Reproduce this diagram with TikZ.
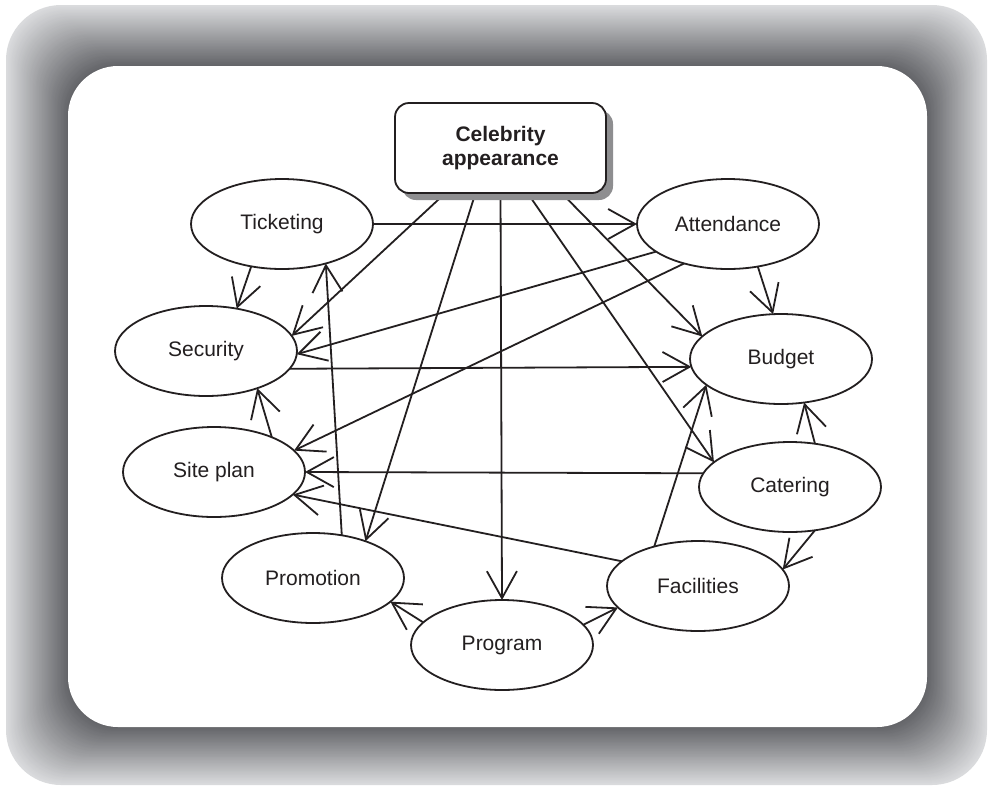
\documentclass[tikz,border=0pt]{standalone}
\usepackage{fontspec}
\setmainfont{Liberation Sans}
\usetikzlibrary{shapes.geometric,arrows.meta,calc,shadows}
\pgfdeclarelayer{frame}
\pgfdeclarelayer{links}
\pgfsetlayers{frame,links,main}

\definecolor{bandlight}{RGB}{218,219,221}
\definecolor{banddark}{RGB}{98,99,103}
\definecolor{shadowgray}{RGB}{142,142,144}
\definecolor{ink}{RGB}{35,31,32}

\begin{document}
\begin{tikzpicture}[x=1pt,y=-1pt,
  ell/.style={ellipse, draw=ink, line width=1.8pt, fill=white,
    minimum width=182pt, minimum height=90pt, inner sep=0pt, outer sep=0pt,
    font=\fontsize{21}{24}\selectfont, text=ink},
  headbox/.style={rectangle, rounded corners=14pt, draw=ink, line width=1.8pt,
    fill=white, minimum width=211pt, minimum height=90pt, inner sep=0pt,
    outer sep=0pt, align=center, text=ink,
    font=\fontsize{21}{24}\selectfont\bfseries,
    drop shadow={shadow xshift=7pt, shadow yshift=-7pt, fill=shadowgray, opacity=1}},
  link/.style={draw=ink, line width=1.8pt,
    -{Straight Barb[length=27pt,width=30pt]}}]

\useasboundingbox (0,0) rectangle (990,788);

% shaded frame around the white panel
\begin{pgfonlayer}{frame}
\foreach \i in {0,...,60}{
  \pgfmathsetmacro\t{\i/60}
  \pgfmathsetmacro\lx{6+62*\t}
  \pgfmathsetmacro\ty{5+61*\t}
  \pgfmathsetmacro\rx{987-60*\t}
  \pgfmathsetmacro\by{785-58*\t}
  \pgfmathsetmacro\rr{55-5*\t}
  \pgfmathtruncatemacro\p{100*\t}
  \fill[banddark!\p!bandlight, rounded corners=\rr pt] (\lx,\ty) rectangle (\rx,\by);
}
\fill[white, rounded corners=50pt] (68,66) rectangle (927,727);
\end{pgfonlayer}

% nodes
\node[headbox] (cel) at (500.5,148) {Celebrity\\appearance};
\node[ell] (tic) at (282,224) {Ticketing};
\node[ell] (att) at (728,224) {Attendance};
\node[ell] (sec) at (206,351) {Security};
\node[ell] (bud) at (781,359) {Budget};
\node[ell] (sit) at (214,472) {Site plan};
\node[ell] (cat) at (790,487) {Catering};
\node[ell] (pro) at (313,578) {Promotion};
\node[ell] (fac) at (698,586) {Facilities};
\node[ell] (prg) at (502,645) {Program};

% connectors
\begin{pgfonlayer}{links}
\draw[link] (tic.east) -- (att.west);
\draw[link] (tic.234) -- (sec.54);
\draw[link] ($(cel.south)+(-55,0)$) -- (sec.10);
\draw[link] ($(cel.south)+(-25,0)$) -- (pro.35);
\draw[link] (cel.south) -- (prg.north);
\draw[link] ($(cel.south)+(27,0)$) -- (cat.162);
\draw[link] ($(cel.south)+(61,0)$) -- (bud.164);
\draw[link] (att.305) -- (bud.100);
\draw[link] (att.201) -- (sec.-2);
\draw[link] (att.222) -- (sit.15);
\draw[link] (sec.-12) -- (bud.185);
\draw[link] (sit.31) -- (sec.-36);
\draw[link] (cat.171) -- (sit.east);
\draw[link] (fac.162) -- (sit.-16);
\draw[link] (pro.56) -- (tic.-42);
\draw[link] (cat.60) -- (bud.-62);
\draw[link] (fac.138) -- (bud.199);
\draw[link] (cat.-60) -- (fac.11);
\draw[link] (prg.164) -- (pro.-17);
\draw[link] (prg.14) -- (fac.195);
\end{pgfonlayer}
\end{tikzpicture}
\end{document}
